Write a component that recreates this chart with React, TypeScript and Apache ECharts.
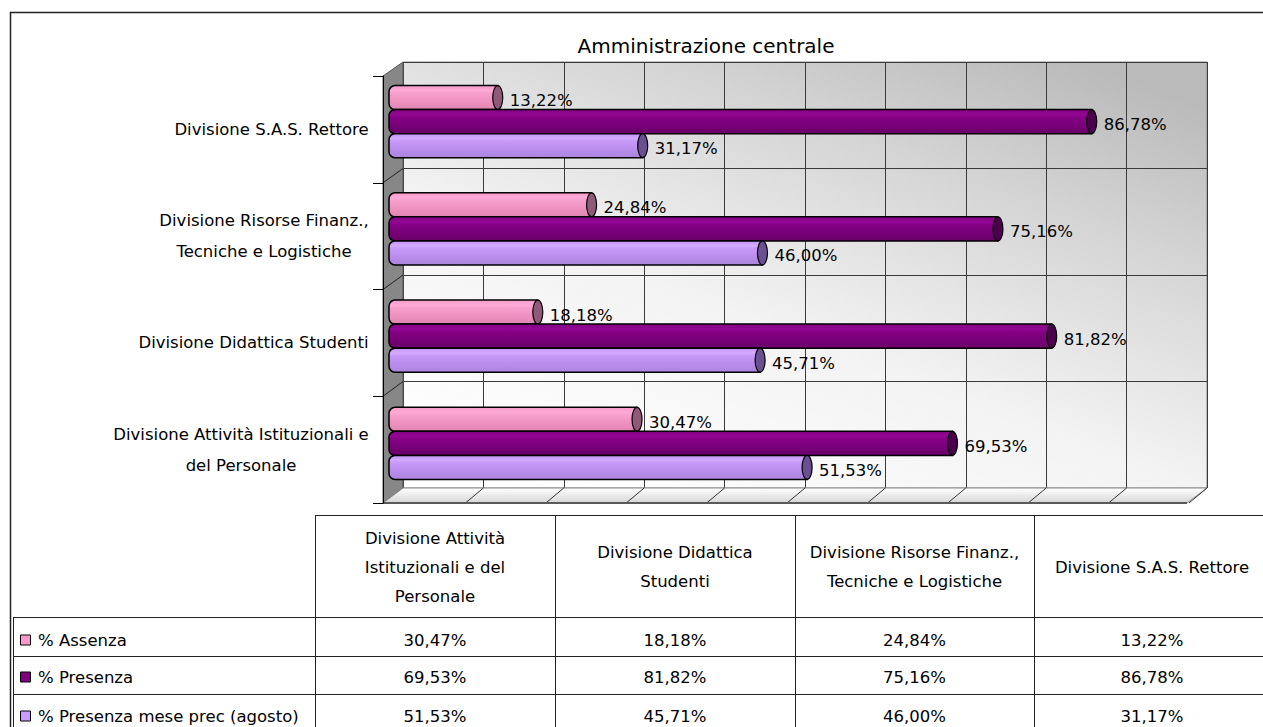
import React, { useEffect, useRef } from "react";
import * as echarts from "echarts";

// ---------------- DATA ----------------
const title = "Amministrazione centrale";
const categories = [
  "Divisione Attività Istituzionali e del Personale",
  "Divisione Didattica Studenti",
  "Divisione Risorse Finanz., Tecniche e Logistiche",
  "Divisione S.A.S. Rettore",
];
const axisLabelLines = [
  ["Divisione Attività Istituzionali e", "del Personale"],
  ["Divisione Didattica Studenti"],
  ["Divisione Risorse Finanz.,", "Tecniche e Logistiche"],
  ["Divisione S.A.S. Rettore"],
];
const tableHeaderLines = [
  ["Divisione Attività", "Istituzionali e del", "Personale"],
  ["Divisione Didattica", "Studenti"],
  ["Divisione Risorse Finanz.,", "Tecniche e Logistiche"],
  ["Divisione S.A.S. Rettore"],
];
const seriesNames = ["% Assenza", "% Presenza", "% Presenza mese prec (agosto)"];
const assenza = [30.47, 18.18, 24.84, 13.22];
const presenza = [69.53, 81.82, 75.16, 86.78];
const presenzaPrec = [51.53, 45.71, 46.0, 31.17];
const axisMin = 0;
const axisMax = 100;
const axisStep = 10;

// ---------------- STYLE ----------------
const FONT = "DejaVu Sans";
const FS = 16.5;
const palettes = [
  {
    key: "#ff99cc",
    cap: "#8f5a78",
    stops: ["#f59bc9", "#ffaad7", "#f7a0cd", "#ee92c0", "#df84b1"],
  },
  {
    key: "#800080",
    cap: "#4a004a",
    stops: ["#800080", "#930893", "#860086", "#780078", "#680068"],
  },
  {
    key: "#cc99ff",
    cap: "#6a5090",
    stops: ["#c394fa", "#d4aaff", "#c798f8", "#ba8ded", "#ab84dc"],
  },
];
const seriesData = [assenza, presenza, presenzaPrec];

const fmt = (v: number) => v.toFixed(2).replace(".", ",") + "%";

// layout
const front = { left: 383, top: 76, width: 804, height: 427 };
const back = { left: 403, top: 62, width: 804, height: 426 };
const bars = { left: 391, top: 68, width: 807.5, height: 429 };

function measure(lines: string[], size: number) {
  const c = document.createElement("canvas").getContext("2d")!;
  c.font = `${size}px "${FONT}"`;
  return Math.ceil(Math.max(...lines.map((l) => c.measureText(l).width))) + 2;
}

function buildOption() {
  const rich: any = {};
  axisLabelLines.forEach((lines, i) => {
    rich["c" + i] = {
      width: measure(lines, FS),
      align: "center",
      lineHeight: 31,
      fontSize: FS,
      fontFamily: FONT,
      color: "#000",
    };
  });

  const makeRender = (sIdx: number) => (params: any, api: any) => {
    const cat = api.value(0);
    const v = api.value(1);
    const end = api.coord([v, cat]);
    const start = api.coord([axisMin, cat]);
    const band = api.size([0, 1])[1];
    const h = band * 0.224;
    const yc = end[1] + (sIdx - 1) * h;
    const pal = palettes[sIdx];
    const capRx = 5;
    const s = pal.stops;
    return {
      type: "group",
      children: [
        {
          type: "rect",
          shape: { x: start[0] - 2, y: yc - h / 2, width: end[0] - start[0] + 2, height: h, r: [6, 0, 0, 6] },
          style: {
            fill: new echarts.graphic.LinearGradient(0, 0, 0, 1, [
              { offset: 0, color: s[0] },
              { offset: 0.2, color: s[1] },
              { offset: 0.32, color: s[2] },
              { offset: 0.65, color: s[3] },
              { offset: 1, color: s[4] },
            ]),
            stroke: "#000",
            lineWidth: 1.5,
          },
        },
        {
          type: "ellipse",
          shape: { cx: end[0], cy: yc, rx: capRx, ry: h / 2 },
          style: { fill: pal.cap, stroke: "#000", lineWidth: 1.2 },
        },
        {
          type: "text",
          style: {
            text: fmt(v),
            x: end[0] + capRx + 7,
            y: yc + 3,
            verticalAlign: "middle",
            align: "left",
            fontSize: FS,
            fontFamily: FONT,
            fill: "#000",
          },
        },
      ],
    };
  };

  // ---------- graphic decorations ----------
  const graphic: any[] = [];
  const depthX = back.left - front.left;
  // side wall
  graphic.push({
    type: "polygon",
    z: 1,
    shape: {
      points: [
        [front.left, front.top],
        [back.left, back.top],
        [back.left, back.top + back.height],
        [front.left, front.top + front.height],
      ],
    },
    style: { fill: "#878787", stroke: "#555", lineWidth: 1 },
  });
  for (let k = 1; k < categories.length; k++) {
    graphic.push({
      type: "line",
      z: 2,
      shape: {
        x1: front.left,
        y1: front.top + (front.height * k) / categories.length,
        x2: back.left,
        y2: back.top + (back.height * k) / categories.length,
      },
      style: { stroke: "#222", lineWidth: 1 },
    });
  }
  // floor
  const fy1 = back.top + back.height;
  const fy2 = front.top + front.height;
  graphic.push({
    type: "polygon",
    z: 1,
    shape: {
      points: [
        [front.left, fy2],
        [back.left, fy1],
        [back.left + back.width, fy1],
        [front.left + front.width, fy2],
      ],
    },
    style: {
      fill: new echarts.graphic.LinearGradient(0, 0, 0, 1, [
        { offset: 0, color: "#ffffff" },
        { offset: 1, color: "#d6d6d6" },
      ]),
      stroke: "#8a8a8a",
      lineWidth: 1,
    },
  });
  for (let v = axisMin + axisStep; v <= axisMax; v += axisStep) {
    const t = (v - axisMin) / (axisMax - axisMin);
    graphic.push({
      type: "line",
      z: 2,
      shape: {
        x1: back.left + back.width * t,
        y1: fy1,
        x2: back.left + back.width * t - depthX + 2,
        y2: fy2,
      },
      style: { stroke: "#333", lineWidth: 1 },
    });
  }
  graphic.push({
    type: "line",
    z: 3,
    shape: { x1: front.left, y1: fy2, x2: front.left + front.width, y2: fy2 },
    style: { stroke: "#5a5a5a", lineWidth: 2 },
  });

  // outer border
  graphic.push({
    type: "polyline",
    z: 3,
    shape: { points: [[10.5, 727], [10.5, 12.5], [1263, 12.5]] },
    style: { stroke: "#222", lineWidth: 1.5, fill: "none" },
  });

  // ---------- data table ----------
  const colX = [315, 555, 795, 1034, 1270];
  const rowY = [515, 617, 656, 694, 733];
  const tStroke = { stroke: "#222", lineWidth: 1 };
  graphic.push({ type: "line", z: 3, shape: { x1: colX[0], y1: rowY[0] + 0.5, x2: 1263, y2: rowY[0] + 0.5 }, style: tStroke });
  for (let r = 1; r <= 3; r++) {
    graphic.push({ type: "line", z: 3, shape: { x1: 13.5, y1: rowY[r] + 0.5, x2: 1263, y2: rowY[r] + 0.5 }, style: tStroke });
  }
  graphic.push({ type: "line", z: 3, shape: { x1: 13.5, y1: rowY[1], x2: 13.5, y2: 727 }, style: tStroke });
  for (let c = 0; c < 4; c++) {
    graphic.push({ type: "line", z: 3, shape: { x1: colX[c] + 0.5, y1: rowY[0], x2: colX[c] + 0.5, y2: 727 }, style: tStroke });
  }
  tableHeaderLines.forEach((lines, c) => {
    graphic.push({
      type: "text",
      z: 4,
      style: {
        text: lines.join("\n"),
        x: (colX[c] + colX[c + 1]) / 2,
        y: 567,
        align: "center",
        verticalAlign: "middle",
        lineHeight: 29,
        fontSize: FS,
        fontFamily: FONT,
        fill: "#000",
      },
    });
  });
  const rowCenters = [640, 677, 716];
  seriesNames.forEach((name, r) => {
    graphic.push({
      type: "rect",
      z: 4,
      shape: { x: 20.5, y: rowCenters[r] - 5, width: 10, height: 10 },
      style: { fill: palettes[r].key, stroke: "#000", lineWidth: 1 },
    });
    graphic.push({
      type: "text",
      z: 4,
      style: {
        text: name,
        x: 38,
        y: rowCenters[r],
        align: "left",
        verticalAlign: "middle",
        fontSize: FS,
        fontFamily: FONT,
        fill: "#000",
      },
    });
    seriesData[r].forEach((v, c) => {
      graphic.push({
        type: "text",
        z: 4,
        style: {
          text: fmt(v),
          x: (colX[c] + colX[c + 1]) / 2,
          y: rowCenters[r],
          align: "center",
          verticalAlign: "middle",
          fontSize: FS,
          fontFamily: FONT,
          fill: "#000",
        },
      });
    });
  });

  const hiddenValue = (gi: number) => ({
    type: "value",
    gridIndex: gi,
    min: axisMin,
    max: axisMax,
    show: false,
  });

  return {
    animation: false,
    backgroundColor: "#ffffff",
    title: {
      text: title,
      left: 701,
      top: 31,
      textAlign: "center",
      textStyle: { fontSize: 20, fontWeight: "normal", fontFamily: FONT, color: "#000" },
    },
    grid: [
      { ...front, containLabel: false, show: false },
      {
        ...back,
        containLabel: false,
        show: true,
        borderColor: "#8a8a8a",
        borderWidth: 1,
        backgroundColor: new echarts.graphic.LinearGradient(0.15, 1, 0.85, 0, [
          { offset: 0, color: "#ffffff" },
          { offset: 0.4, color: "#f3f3f3" },
          { offset: 0.75, color: "#d4d4d4" },
          { offset: 1, color: "#bababa" },
        ]),
      },
      { ...bars, containLabel: false, show: false },
    ],
    xAxis: [
      hiddenValue(0),
      {
        type: "value",
        gridIndex: 1,
        min: axisMin,
        max: axisMax,
        interval: axisStep,
        axisLine: { show: false },
        axisTick: { show: false },
        axisLabel: { show: false },
        splitLine: { show: true, lineStyle: { color: "#3a3a3a", width: 1 } },
      },
      hiddenValue(2),
    ],
    yAxis: [
      {
        type: "category",
        gridIndex: 0,
        data: categories,
        z: 5,
        axisLine: { show: true, lineStyle: { color: "#000", width: 1 } },
        axisTick: { show: true, inside: false, length: 10, interval: 0, lineStyle: { color: "#000" } },
        axisLabel: {
          margin: 13,
          interval: 0,
          formatter: (_v: string, i: number) =>
            axisLabelLines[i].map((l) => `{c${i}|${l}}`).join("\n"),
          rich,
        },
        splitLine: { show: false },
      },
      {
        type: "category",
        gridIndex: 1,
        data: categories,
        axisLine: { show: false },
        axisTick: { show: false },
        axisLabel: { show: false },
        splitLine: { show: true, interval: 0, lineStyle: { color: "#3a3a3a", width: 1 } },
      },
      { type: "category", gridIndex: 2, data: categories, show: false },
    ],
    series: seriesNames.map((name, sIdx) => ({
      type: "custom",
      name,
      xAxisIndex: 2,
      yAxisIndex: 2,
      z: 10,
      clip: false,
      encode: { x: 1, y: 0 },
      renderItem: makeRender(sIdx),
      data: seriesData[sIdx].map((v, i) => [i, v]),
    })),
    graphic,
  };
}

export default function App() {
  const ref = useRef<HTMLDivElement>(null);
  useEffect(() => {
    if (!ref.current) return;
    const chart = echarts.init(ref.current, null, { renderer: "svg" });
    chart.setOption(buildOption() as any);
    return () => chart.dispose();
  }, []);
  return (
    <div
      ref={ref}
      style={{ position: "fixed", left: 0, top: 0, width: 1263, height: 727 }}
    />
  );
}
